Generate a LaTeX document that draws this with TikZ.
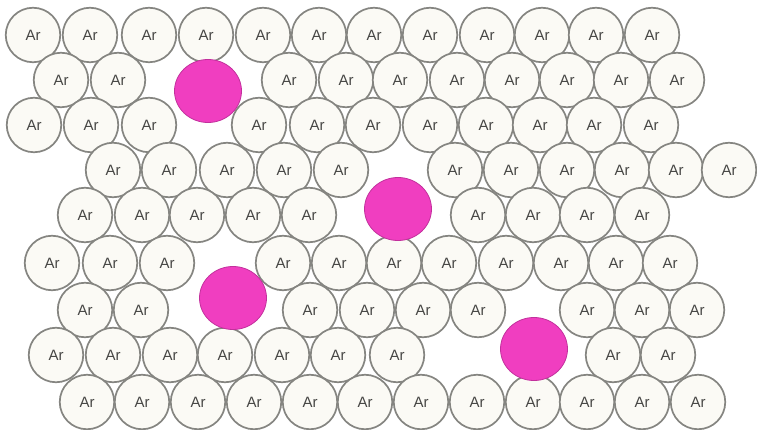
\documentclass[tikz,border=0pt]{standalone}
\usepackage{fontspec}
\setsansfont{Liberation Sans}
\usetikzlibrary{shapes.geometric}
\definecolor{ringgray}{HTML}{858581}
\definecolor{atomfill}{HTML}{FBFAF5}
\definecolor{labelgray}{HTML}{474745}
\definecolor{dopant}{HTML}{F03EC0}
\definecolor{dopantedge}{HTML}{C2309C}

\begin{document}
\begin{tikzpicture}[x=1pt, y=-1pt,
  atom/.style={circle, draw=ringgray, line width=1.7pt, fill=atomfill,
    minimum size=54.5pt, inner sep=0pt, text=labelgray,
    font=\sffamily\fontsize{15}{15}\selectfont},
  imp/.style={ellipse, fill=dopant, draw=dopantedge, line width=0.8pt,
    minimum width=67pt, minimum height=63pt, inner sep=0pt}]

% Background
\fill[white] (0,0) rectangle (757,430);
\useasboundingbox (0,0) rectangle (757,430);

% --- Argon lattice, row by row (row/y : list of x) ---
\foreach \r/\y/\xs in {
  1/35/{33,90,149,206,263,319,374,430,487,542,596,652},
  2/80/{61,118,289,346,400,457,512,567,621,677},
  3/125/{34,91,149,259,317,373,430,486,540,594,651},
  4/170/{113,169,227,284,341,455,511,567,622,676,729},
  5/215/{85,142,197,253,309,478,533,587,642},
  6/263/{52,110,167,283,339,394,449,506,561,616,670},
  7/310/{85,141,310,367,423,478,587,642,697},
  8/355/{56,113,170,225,282,338,397,613,668},
  9/402/{87,142,198,254,310,365,421,477,533,587,642,698}}
{
  \foreach \x [count=\i] in \xs
    \node[atom] (ar-\r-\i) at (\x,\y) {Ar};
}

% --- Impurity atoms in the gaps ---
\node[imp] (imp1) at (208,91) {};
\node[imp] (imp2) at (398,209) {};
\node[imp] (imp3) at (233,298) {};
\node[imp] (imp4) at (534,349) {};

\end{tikzpicture}
\end{document}
